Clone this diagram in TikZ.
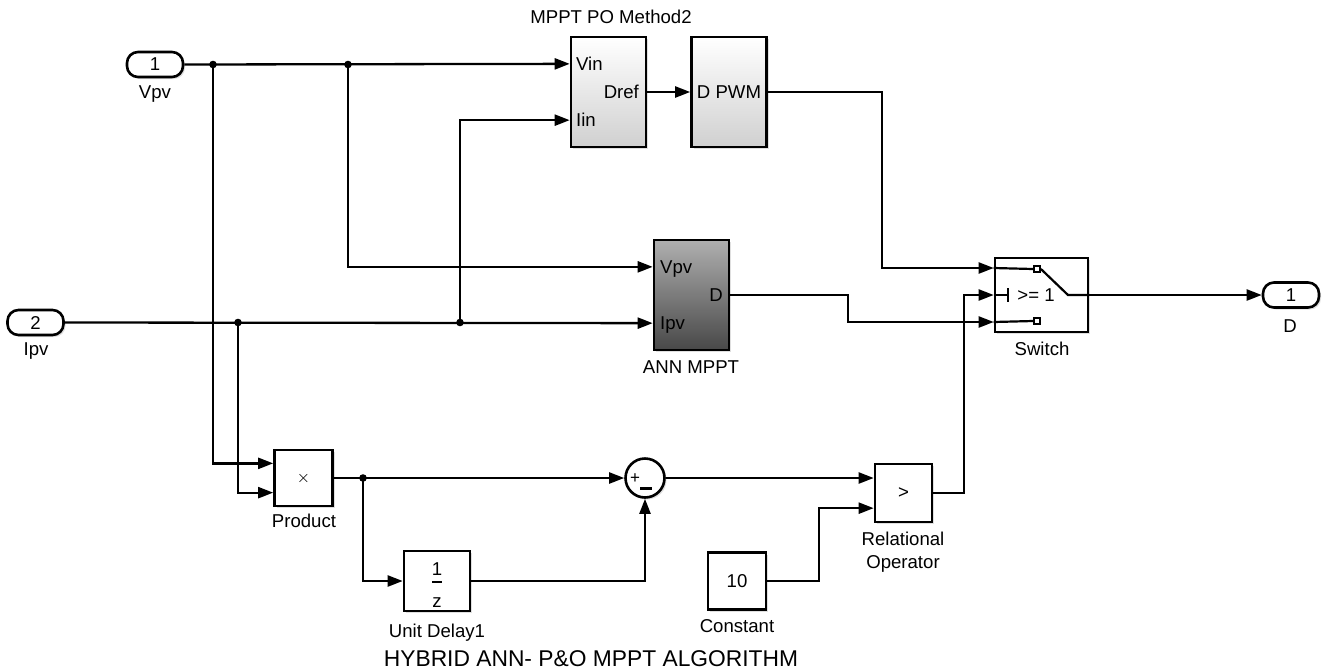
\documentclass[tikz,border=0pt]{standalone}
\usepackage{fontspec}
\setmainfont{Liberation Sans}
\usetikzlibrary{arrows.meta,calc,shadows}
\definecolor{lgray}{RGB}{208,208,208}
\definecolor{anntop}{RGB}{175,175,175}
\definecolor{annbot}{RGB}{72,72,72}
\begin{document}
\begin{tikzpicture}[x=0.5pt,y=-0.5pt,
  font=\fontsize{9.3}{11}\selectfont,
  sig/.style={line width=1.15pt,-{Triangle[length=7.5pt,width=5.5pt]}},
  shad/.style={drop shadow={shadow xshift=1pt,shadow yshift=-1pt,opacity=0.25}},
  blk/.style={draw,line width=1.3pt,fill=white,inner sep=0,shad},
  gblk/.style={blk,top color=white,bottom color=lgray},
  ablk/.style={blk,top color=anntop,bottom color=annbot},
  port/.style={draw,line width=1.3pt,rounded corners=5.5pt,fill=white,minimum width=28pt,minimum height=12.5pt,inner sep=0,shad},
  dot/.style={circle,fill,inner sep=0,minimum size=3.8pt},
  lbl/.style={inner sep=0,anchor=base},
  ptxt/.style={inner sep=0},
]
\useasboundingbox (0,0) rectangle (1323,670);

% ports
\node[port] (in1) at (155,64.5) {1};
\node[lbl] (in1l) at (155,98) {Vpv};
\node[port] (in2) at (35.5,322.5) {2};
\node[lbl] (in2l) at (36,355) {Ipv};
\node[port] (out1) at (1291,295) {1};
\node[lbl] (out1l) at (1290,332) {D};

% MPPT PO block
\node[gblk,minimum width=37.5pt,minimum height=55pt] (mppt) at (608.5,92) {};
\node[lbl] (mpptl) at (611,23) {MPPT PO Method2};
\coordinate (mppt-in1) at ($(mppt.north west)!0.25!(mppt.south west)$);
\coordinate (mppt-in2) at ($(mppt.north west)!0.75!(mppt.south west)$);
\node[ptxt,anchor=west] (t-vin) at ([xshift=3pt]mppt-in1) {Vin};
\node[ptxt,anchor=west] (t-iin) at ([xshift=3pt]mppt-in2) {Iin};
\node[ptxt,anchor=east] (t-dref) at ([xshift=-4pt]mppt.east) {Dref};

% D PWM
\node[gblk,minimum width=37.5pt,minimum height=55pt] (dpwm) at (729,92) {D PWM};

% ANN MPPT
\node[ablk,minimum width=37.5pt,minimum height=55pt] (ann) at (691.5,295) {};
\coordinate (ann-in1) at ($(ann.north west)!0.25!(ann.south west)$);
\coordinate (ann-in2) at ($(ann.north west)!0.75!(ann.south west)$);
\node[ptxt,anchor=base west] (t-vpv) at ([xshift=3.5pt,yshift=-3.3pt]ann-in1) {Vpv};
\node[ptxt,anchor=base west] (t-ipv) at ([xshift=3.5pt,yshift=-3.3pt]ann-in2) {Ipv};
\node[ptxt,anchor=base east] (t-d) at ([xshift=-3.5pt,yshift=-3.3pt]ann.east) {D};
\node[lbl] (annl) at (691,373) {ANN MPPT};

% Switch
\node[blk,minimum width=46.5pt,minimum height=37pt] (sw) at (1041.5,295) {};
\coordinate (sw-in1) at ([yshift=13.5pt]sw.west);
\coordinate (sw-in2) at (sw.west);
\coordinate (sw-in3) at ([yshift=-13.5pt]sw.west);
\node[draw,fill=white,line width=0.9pt,minimum size=3pt,inner sep=0] (sq1) at (1037,269) {};
\node[draw,fill=white,line width=0.9pt,minimum size=3pt,inner sep=0] (sq3) at (1037,321) {};
\coordinate (swpiv) at (1068,295);
\coordinate (swbar) at (1008,295);
\draw[line width=1.1pt] (sw-in1) -- (sq1.west);
\draw[line width=1.1pt] (sw-in3) -- (sq3.west);
\draw[line width=1.1pt] (sw-in2) -- (swbar);
\draw[line width=1.1pt] ([yshift=3.4pt]swbar) -- ([yshift=-3.4pt]swbar);
\draw[line width=1.1pt] (sq1.east) -- (swpiv) -- (sw.east);
\node[ptxt] (t-ge) at (1036,295) {>= 1};
\node[lbl] (swl) at (1042,355) {Switch};

% Product
\node[blk,minimum width=29pt,minimum height=28pt] (prod) at (303.5,478) {\fontsize{8.5}{8}\selectfont$\times$};
\coordinate (prod-in1) at ($(prod.north west)!0.25!(prod.south west)$);
\coordinate (prod-in2) at ($(prod.north west)!0.75!(prod.south west)$);
\node[lbl] (prodl) at (304,527) {Product};

% Sum
\node[draw,circle,line width=1.3pt,minimum size=19.5pt,inner sep=0,fill=white,shad] (sum) at (645,478) {};
\node[ptxt,font=\fontsize{8.5}{8}\selectfont] (t-plus) at (635,479) {+};
\draw[line width=1.5pt] (640,488) -- (652,488);

% Unit delay
\node[blk,minimum width=33pt,minimum height=30pt] (ud) at (437,581) {};
\node[lbl] (ud-num) at (437,575) {1};
\draw[line width=0.9pt] (432,582) -- (442,582);
\node[lbl] (ud-den) at (437,607) {z};
\node[lbl] (udl) at (437,637) {Unit Delay1};

% Relational operator
\node[blk,minimum width=28.5pt,minimum height=29pt] (relop) at (903.5,493) {>};
\coordinate (relop-in2) at ($(relop.north west)!0.75!(relop.south west)$);
\node[lbl] (relopl1) at (903,545) {Relational};
\node[lbl] (relopl2) at (903,568) {Operator};

% Constant
\node[blk,minimum width=29pt,minimum height=28.5pt] (const) at (737,581) {10};
\node[lbl] (constl) at (737,632) {Constant};

\node[lbl,font=\fontsize{11.4}{13}\selectfont] (title) at (591,666) {HYBRID ANN- P\&O MPPT ALGORITHM};

% junctions
\coordinate (j1) at (213,64.5);
\coordinate (j2) at (348,64.5);
\coordinate (j3) at (238,322.5);
\coordinate (j4) at (460,322.5);
\coordinate (j5) at (363,478);

% wires
\draw[sig] (in1.east) -- (mppt-in1);
\draw[sig] (j1) |- (prod-in1);
\draw[sig] (j2) |- (ann-in1);
\draw[sig] (in2.east) -- (ann-in2);
\draw[sig] (j3) |- (prod-in2);
\draw[sig] (j4) |- (mppt-in2);
\draw[sig] (mppt.east) -- (dpwm.west);
\draw[sig] (dpwm.east) -- ++(114,0) |- (sw-in1);
\draw[sig] (ann.east) -- ++(118,0) |- (sw-in3);
\draw[sig] (sw.east) -- (out1.west);
\draw[sig] (prod.east) -- (sum.west);
\draw[sig] (j5) |- (ud.west);
\draw[sig] (ud.east) -| (sum.south);
\draw[sig] (sum.east) -- (sum.east -| relop.west);
\draw[sig] (const.east) -- ++(52,0) |- (relop-in2);
\draw[sig] (relop.east) -- ++(31,0) |- (sw-in2);

\foreach \j in {j1,j2,j3,j4,j5} \node[dot] at (\j) {};
\end{tikzpicture}
\end{document}
